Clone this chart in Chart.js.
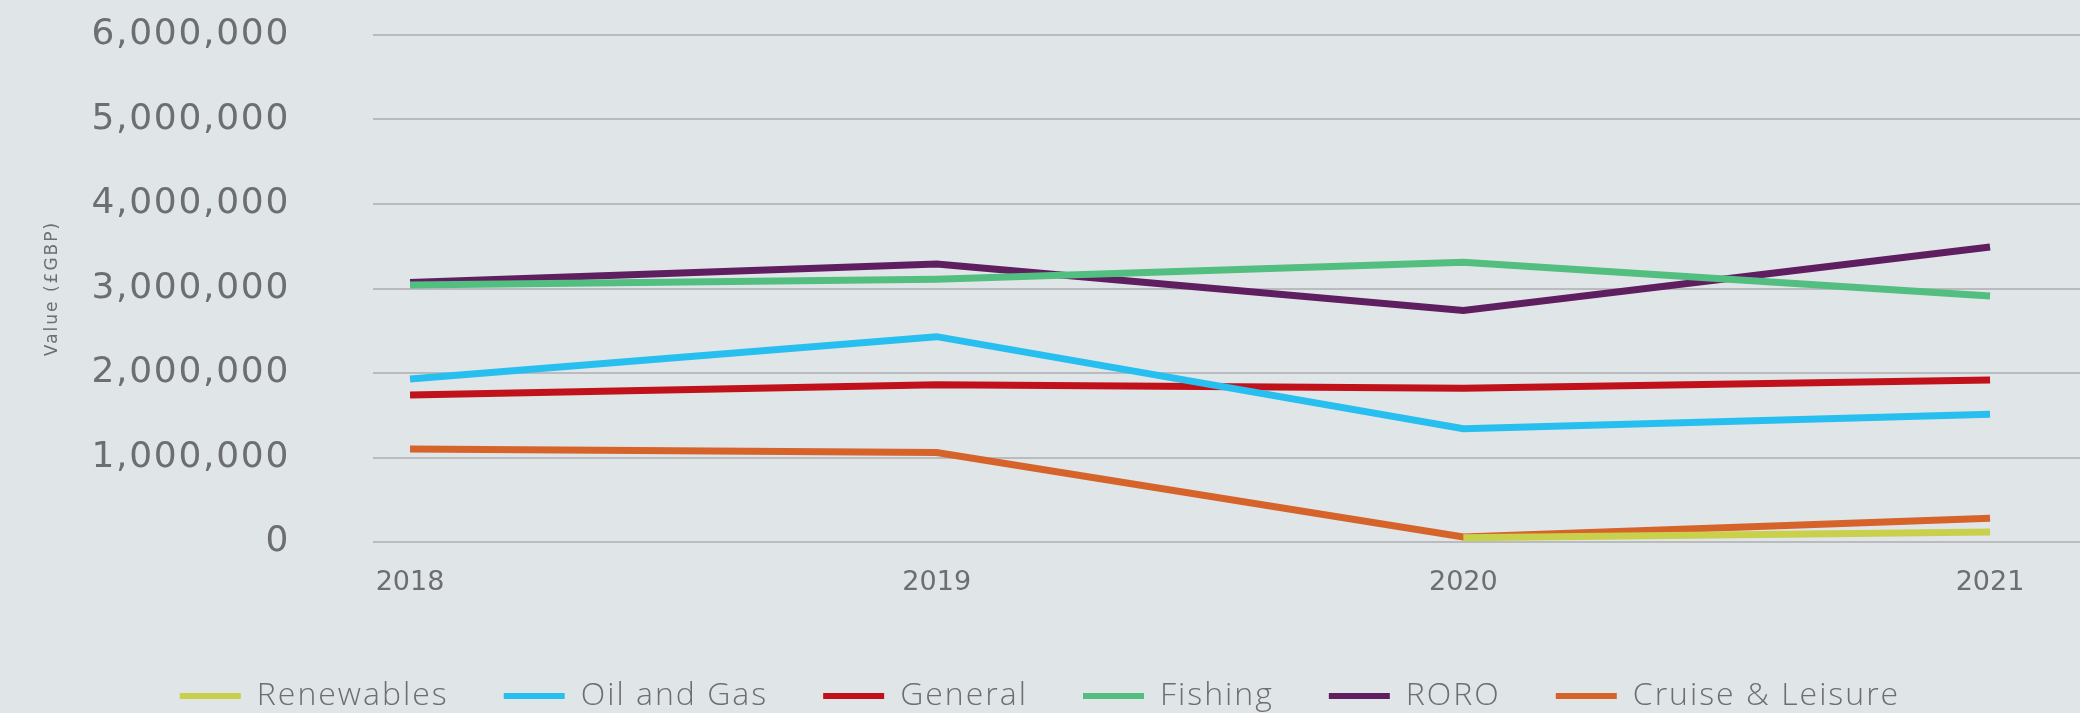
<!DOCTYPE html>
<html>
<head>
<meta charset="utf-8">
<script src="https://cdn.jsdelivr.net/npm/chart.js@4.4.1/dist/chart.umd.min.js"></script>
<style>
  html, body { margin: 0; padding: 0; background: #e0e5e8; }
  #wrap { width: 2080px; height: 713px; position: relative; }
</style>
</head>
<body>
<div id="wrap"><canvas id="chart"></canvas></div>
<script>
// data
const years = [2018, 2019, 2020, 2021];
const yTicks = [0, 1000000, 2000000, 3000000, 4000000, 5000000, 6000000];

const renewables = [null, null, 50000, 118000];
const oilGas = [1930000, 2430000, 1340000, 1513000];
const general = [1740000, 1860000, 1820000, 1917000];
const fishing = [3040000, 3110000, 3310000, 2910000];
const roro = [3070000, 3290000, 2740000, 3490000];
const cruise = [1100000, 1060000, 60000, 280000];

const names = ["Renewables", "Oil and Gas", "General", "Fishing", "RORO", "Cruise & Leisure"];
const colours = ["#c9d04c", "#27bfef", "#c1121c", "#52be80", "#5e1e5f", "#d6632a"];
const values = [renewables, oilGas, general, fishing, roro, cruise];

const grey = "#6d6e71";

const canvas = document.getElementById("chart");
const ctx = canvas.getContext("2d");

// the original typeface is wide, so add letter spacing per font size
const spacingBySize = { 36: "1.7px", 27: "0px", 32: "2px", 17: "2px" };
const fontProp = Object.getOwnPropertyDescriptor(CanvasRenderingContext2D.prototype, "font");
Object.defineProperty(ctx, "font", {
  get() { return fontProp.get.call(this); },
  set(v) {
    fontProp.set.call(this, v);
    const m = /(\d+(?:\.\d+)?)px/.exec(v);
    this.letterSpacing = (m && spacingBySize[Math.round(m[1])]) || "0px";
  }
});

// keep the legend short even though item padding is wide
const legendFit = {
  id: "legendFit",
  beforeLayout(chart) {
    const lg = chart.legend;
    if (lg && !lg._patched) {
      const orig = lg.fit;
      lg.fit = function () { orig.call(this); this.height = 88; };
      lg._patched = true;
    }
  }
};

const datasets = names.map((name, i) => ({
  label: name,
  data: years.map((y, j) => ({ x: y, y: values[i][j] })),
  borderColor: colours[i],
  backgroundColor: colours[i],
  borderWidth: 7,
  borderCapStyle: "butt",
  pointRadius: 0,
  tension: 0,
  spanGaps: false
}));

new Chart(ctx, {
  type: "line",
  data: { datasets: datasets },
  plugins: [legendFit],
  options: {
    responsive: true,
    maintainAspectRatio: false,
    animation: false,
    layout: { padding: { top: 35, right: 0, bottom: 0, left: 0 } },
    plugins: {
      tooltip: { enabled: false },
      legend: {
        position: "bottom",
        labels: {
          boxWidth: 61,
          boxHeight: 6,
          padding: 55,
          color: grey,
          font: { family: "Open Sans", size: 32, weight: 300 },
          generateLabels(chart) {
            return Chart.defaults.plugins.legend.labels.generateLabels(chart)
              .map(l => ({ ...l, lineWidth: 0, fillStyle: l.strokeStyle }));
          }
        }
      }
    },
    scales: {
      x: {
        type: "linear",
        min: 2017.9297,
        max: 2021.1708,
        grid: { display: false, drawTicks: false },
        border: { display: false },
        afterBuildTicks(axis) { axis.ticks = years.map(v => ({ value: v })); },
        afterFit(axis) { axis.height = 83; },
        ticks: {
          padding: 25,
          color: grey,
          font: { family: "DejaVu Sans", size: 27 },
          callback: v => String(v)
        }
      },
      y: {
        min: 0,
        max: 6000000,
        afterBuildTicks(axis) { axis.ticks = yTicks.map(v => ({ value: v })); },
        afterFit(axis) { axis.width = 373; },
        grid: { color: "#b9bbbe", lineWidth: 2, drawTicks: true, tickLength: 80, tickColor: "rgba(0,0,0,0)" },
        border: { display: false },
        ticks: {
          padding: 3,
          color: grey,
          font: { family: "DejaVu Sans", size: 36 },
          callback: v => v.toLocaleString("en-GB")
        },
        title: {
          display: true,
          text: "Value (£GBP)",
          color: grey,
          padding: { top: 42, bottom: 0 },
          font: { family: "DejaVu Sans", size: 17 }
        }
      }
    }
  }
});
</script>
</body>
</html>
